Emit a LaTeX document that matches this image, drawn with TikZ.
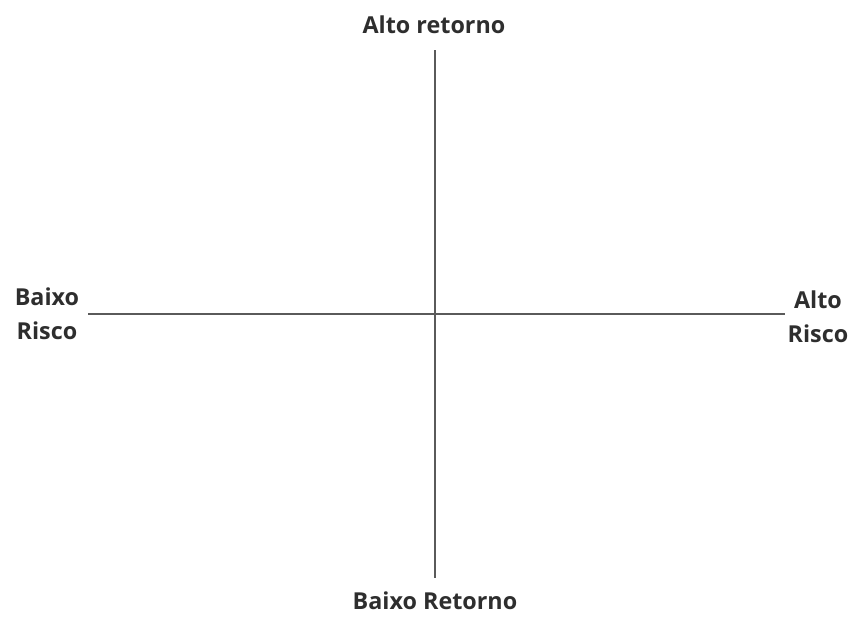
\documentclass[tikz,border=0pt]{standalone}
\usepackage{fontspec}
\setmainfont{Open Sans}
\usepackage{tikz}
\definecolor{axisgray}{HTML}{5A5A5A}
\definecolor{labelgray}{HTML}{2E2E2E}
\tikzset{
  axis/.style={draw=axisgray, line width=0.8pt},
  axislabel/.style={text=labelgray, font=\fontsize{17.5}{25.5}\selectfont\bfseries, align=center, inner sep=0pt},
}
\begin{document}
\begin{tikzpicture}[x=0.75pt, y=-0.75pt]
	\useasboundingbox (0,0) rectangle (851,618);
	% ends of the axes
	\coordinate (top) at (435, 50);
	\coordinate (bottom) at (435, 578);
	\coordinate (left) at (88, 314);
	\coordinate (right) at (785, 314);
	% labels
	\node [style=axislabel] (highreturn) at (434, 25) {Alto retorno};
	\node [style=axislabel] (lowreturn) at (435, 601) {Baixo Retorno};
	\node [style=axislabel] (lowrisk) at (47, 314) {Baixo\\Risco};
	\node [style=axislabel] (highrisk) at (818, 317) {Alto\\Risco};
	% axes
	\draw [style=axis] (top) -- (bottom);
	\draw [style=axis] (left) -- (right);
\end{tikzpicture}
\end{document}
